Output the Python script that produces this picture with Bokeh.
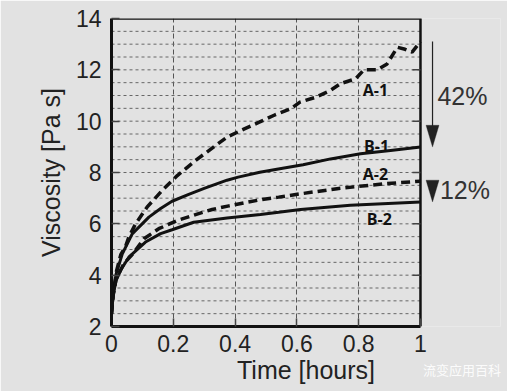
import numpy as np
from bokeh.plotting import figure
from bokeh.models import (Range1d, FixedTicker, Arrow, PolyAnnotation, Label, LinearAxis)
from bokeh.embed import file_html
from bokeh.resources import INLINE

# ---------------- data ----------------
t_A1 = [0.0, 0.005, 0.015, 0.03, 0.045, 0.056, 0.078, 0.115, 0.164, 0.213, 0.27, 0.374, 0.43,
        0.478, 0.53, 0.58, 0.61, 0.66, 0.709, 0.741, 0.79, 0.817, 0.86, 0.892, 0.925, 0.95, 0.973, 1.0]
v_A1 = [2.5, 3.2, 4.1, 4.8, 5.1, 5.48, 6.0, 6.65, 7.3, 7.88, 8.45, 9.38, 9.7,
        9.96, 10.25, 10.48, 10.74, 10.93, 11.2, 11.46, 11.65, 12.0, 12.0, 12.23, 12.88, 12.8, 12.69, 13.1]

t_B1 = [0.0, 0.005, 0.015, 0.035, 0.067, 0.121, 0.159, 0.196, 0.25, 0.3, 0.374, 0.41, 0.48,
        0.54, 0.62, 0.709, 0.806, 0.903, 1.0]
v_B1 = [2.5, 3.2, 4.05, 4.83, 5.61, 6.26, 6.6, 6.88, 7.15, 7.38, 7.7, 7.82, 8.01,
        8.14, 8.3, 8.53, 8.73, 8.86, 8.99]

t_A2 = [0.0, 0.005, 0.015, 0.04, 0.067, 0.105, 0.153, 0.213, 0.272, 0.326, 0.38, 0.439, 0.493,
        0.541, 0.612, 0.73, 0.882, 1.0]
v_A2 = [2.5, 3.2, 3.85, 4.45, 4.8, 5.42, 5.81, 6.13, 6.36, 6.56, 6.7, 6.84, 6.96,
        7.04, 7.17, 7.37, 7.56, 7.66]

t_B2 = [0.0, 0.005, 0.015, 0.03, 0.056, 0.11, 0.159, 0.196, 0.266, 0.374, 0.482, 0.541, 0.612,
        0.773, 1.0]
v_B2 = [2.5, 3.2, 3.8, 4.2, 4.7, 5.29, 5.62, 5.77, 6.06, 6.23, 6.36, 6.45, 6.56,
        6.72, 6.85]

x_ticks = [0, 0.2, 0.4, 0.6, 0.8, 1.0]
x_tick_labels = ["0", "0.2", "0.4", "0.6", "0.8", "1"]
y_ticks = [2, 4, 6, 8, 10, 12, 14]
y_grid_step = 0.5

series_labels = ["A-1", "B-1", "A-2", "B-2"]
label_pos_t = [0.854, 0.858, 0.854, 0.867]
label_pos_v = [11.23, 9.05, 7.96, 6.17]

pct_labels = ["42%", "12%"]
watermark = "流变应用百科"

# ---------------- figure ----------------
BG = "#e2e2e2"
INK = "#111111"
X_MAX = 1.259   # room on the right of t = 1 for the arrows and percentages

p = figure(width=507, height=391, output_backend="svg", toolbar_location=None,
           x_range=Range1d(0, X_MAX), y_range=Range1d(2, 14),
           min_border_left=111, min_border_right=7, min_border_top=18, min_border_bottom=65,
           background_fill_color=BG, border_fill_color=BG)
p.outline_line_color = None

# axes
for ax in (p.xaxis[0], p.yaxis[0]):
    ax.axis_line_color = INK
    ax.axis_line_width = 3
    ax.major_tick_in = 8
    ax.major_tick_out = 0
    ax.minor_tick_in = 0
    ax.minor_tick_out = 0
    ax.major_tick_line_color = "#444444"
    ax.major_tick_line_width = 1.5
    ax.major_label_text_font = "Liberation Sans"
    ax.major_label_text_font_size = "23px"
    ax.major_label_text_color = "#222222"
    ax.axis_label_text_font = "Liberation Sans"
    ax.axis_label_text_font_size = "25px"
    ax.axis_label_text_font_style = "normal"
    ax.axis_label_text_color = "#222222"

p.xaxis.bounds = (0, 1)
p.xaxis.ticker = FixedTicker(ticks=x_ticks)
p.xaxis.major_label_overrides = {tk: lb for tk, lb in zip(x_ticks, x_tick_labels)}
p.xaxis.major_label_standoff = 8
p.xaxis.axis_label = "Time [hours]"
p.xaxis.axis_label_standoff = 1

p.yaxis.ticker = FixedTicker(ticks=y_ticks)
p.yaxis.major_label_standoff = 10
p.yaxis.axis_label = "Viscosity [Pa s]"
p.yaxis.axis_label_standoff = 8

# watermark: label of an empty second bottom axis, pulled up beside the axis title,
# pushed to the right with leading ideographic spaces (1 em each)
wax = LinearAxis(ticker=FixedTicker(ticks=[]),
                 axis_line_color=None, major_tick_in=0, major_tick_out=0,
                 minor_tick_in=0, minor_tick_out=0, major_label_text_font_size="0px",
                 major_label_standoff=0,
                 axis_label="\u3000" * 24 + watermark,
                 axis_label_standoff=-27,
                 axis_label_text_font="Noto Sans CJK SC", axis_label_text_font_size="13px",
                 axis_label_text_font_style="normal",
                 axis_label_text_color="white", axis_label_text_alpha=0.9)
p.add_layout(wax, "below")

# grids
p.xgrid.ticker = FixedTicker(ticks=[0.2, 0.4, 0.6, 0.8])
p.xgrid.grid_line_color = "#555555"
p.xgrid.grid_line_dash = "5 3"
p.xgrid.grid_line_width = 1
p.ygrid.visible = False
gy = list(np.arange(y_ticks[0] + y_grid_step, y_ticks[-1], y_grid_step))
p.multi_line(xs=[[0, 1]] * len(gy), ys=[[g, g] for g in gy],
             line_color="#666666", line_dash="3 3", line_width=1)

# frame: top and right borders, inner ticks on the right
p.line([0, 1, 1], [y_ticks[-1], y_ticks[-1], y_ticks[0]], line_color=INK, line_width=2.5)
rt = y_ticks[1:-1]
p.segment(x0=[1 - 0.026] * len(rt), y0=rt, x1=[1] * len(rt), y1=rt,
          line_color="#444444", line_width=1.5)

# curves
p.line(t_A1, v_A1, line_color=INK, line_width=3.5, line_dash="9 5")
p.line(t_B1, v_B1, line_color=INK, line_width=3)
p.line(t_A2, v_A2, line_color=INK, line_width=3.5, line_dash="9 5")
p.line(t_B2, v_B2, line_color=INK, line_width=3)

# series labels
for txt, tx, vy in zip(series_labels, label_pos_t, label_pos_v):
    p.add_layout(Label(x=tx, y=vy, text=txt, text_font="Open Sans", text_font_style="bold",
                       text_font_size="16px", text_color=INK,
                       text_align="center", text_baseline="middle"))

# percentage arrows (from the end of A to the end of B)
ax_t = 1.039
head_w = 0.021   # half width (t units)
head_l = 0.85    # length (viscosity units)
pairs = [(v_A1[-1], v_B1[-1]), (v_A2[-1], v_B2[-1])]
pct_pos_v = [11.0, 7.3]
pct_pos_t = [1.055, 1.063]
for (ys, ye), txt, pt, pv in zip(pairs, pct_labels, pct_pos_t, pct_pos_v):
    p.add_layout(Arrow(end=None, x_start=ax_t, y_start=ys, x_end=ax_t, y_end=ye + head_l * 0.5,
                       line_color="#222222", line_width=1.2))
    p.add_layout(PolyAnnotation(xs=[ax_t - head_w, ax_t + head_w, ax_t],
                                ys=[ye + head_l, ye + head_l, ye],
                                fill_color="#222222", fill_alpha=1.0,
                                line_color="#222222", line_width=1))
    p.add_layout(Label(x=pt, y=pv, text=txt, text_font="Liberation Sans",
                       text_font_size="25px", text_color="#333333",
                       text_align="left", text_baseline="middle"))

open("out.html", "w").write(file_html(p, INLINE))
